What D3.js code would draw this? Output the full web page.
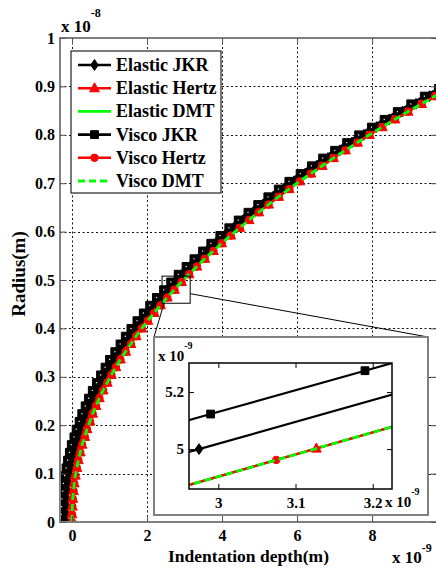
<!DOCTYPE html>
<html><head><meta charset="utf-8">
<script src="https://cdn.jsdelivr.net/npm/d3@7"></script>
<style>
body{margin:0;background:#fff}
svg{display:block}
text{font-family:"Liberation Serif","Times New Roman",serif;font-weight:bold;fill:#000}
</style>
</head><body>
<svg id="c" width="436" height="568"></svg>
<script>
// ---------------- data (main plot, x in 1e-9 m, y in 1e-8 m) ----------------
const radius = [0,0.016,0.032,0.048,0.064,0.080,0.096,0.112,0.128,0.144,0.160,0.176,0.192,0.208,0.224,0.240,0.256,0.272,0.288,0.304,0.320,0.336,0.352,0.368,0.384,0.400,0.416,0.432,0.448,0.464,0.480,0.496,0.512,0.528,0.544,0.560,0.576,0.592,0.608,0.624,0.640,0.656,0.672,0.688,0.704,0.720,0.736,0.752,0.768,0.784,0.800,0.816,0.832,0.848,0.864,0.880,0.896];
const depthElasticJKR = [-0.15,-0.15,-0.14,-0.13,-0.11,-0.09,-0.06,-0.02,0.02,0.07,0.12,0.19,0.25,0.33,0.40,0.49,0.58,0.68,0.79,0.90,1.02,1.14,1.28,1.42,1.56,1.71,1.87,2.04,2.21,2.39,2.58,2.77,2.97,3.18,3.39,3.62,3.84,4.08,4.32,4.57,4.83,5.09,5.36,5.64,5.92,6.22,6.52,6.82,7.14,7.46,7.78,8.12,8.46,8.81,9.17,9.53,9.91];
const depthElasticHertz = [0,0.00,0.01,0.02,0.04,0.06,0.09,0.13,0.17,0.22,0.27,0.34,0.40,0.48,0.55,0.64,0.73,0.83,0.94,1.05,1.17,1.29,1.43,1.57,1.71,1.86,2.02,2.19,2.36,2.54,2.73,2.92,3.12,3.33,3.54,3.77,3.99,4.23,4.47,4.72,4.98,5.24,5.51,5.79,6.07,6.37,6.67,6.97,7.29,7.61,7.93,8.27,8.61,8.96,9.32,9.68,10.06];
const depthElasticDMT = [0,0.00,0.01,0.02,0.04,0.06,0.09,0.13,0.17,0.22,0.27,0.34,0.40,0.48,0.55,0.64,0.73,0.83,0.94,1.05,1.17,1.29,1.43,1.57,1.71,1.86,2.02,2.19,2.36,2.54,2.73,2.92,3.12,3.33,3.54,3.77,3.99,4.23,4.47,4.72,4.98,5.24,5.51,5.79,6.07,6.37,6.67,6.97,7.29,7.61,7.93,8.27,8.61,8.96,9.32,9.68,10.06];
const depthViscoJKR = [-0.29,-0.29,-0.28,-0.27,-0.25,-0.23,-0.20,-0.16,-0.12,-0.07,-0.02,0.05,0.11,0.19,0.26,0.35,0.44,0.54,0.65,0.76,0.88,1.00,1.14,1.28,1.42,1.57,1.73,1.90,2.07,2.25,2.44,2.63,2.83,3.04,3.25,3.48,3.70,3.94,4.18,4.43,4.69,4.95,5.22,5.50,5.78,6.08,6.38,6.68,7.00,7.32,7.64,7.98,8.32,8.67,9.03,9.39,9.77];
const depthViscoHertz = [0,0.00,0.01,0.02,0.04,0.06,0.09,0.13,0.17,0.22,0.27,0.34,0.40,0.48,0.55,0.64,0.73,0.83,0.94,1.05,1.17,1.29,1.43,1.57,1.71,1.86,2.02,2.19,2.36,2.54,2.73,2.92,3.12,3.33,3.54,3.77,3.99,4.23,4.47,4.72,4.98,5.24,5.51,5.79,6.07,6.37,6.67,6.97,7.29,7.61,7.93,8.27,8.61,8.96,9.32,9.68,10.06];
const depthViscoDMT = [0,0.00,0.01,0.02,0.04,0.06,0.09,0.13,0.17,0.22,0.27,0.34,0.40,0.48,0.55,0.64,0.73,0.83,0.94,1.05,1.17,1.29,1.43,1.57,1.71,1.86,2.02,2.19,2.36,2.54,2.73,2.92,3.12,3.33,3.54,3.77,3.99,4.23,4.47,4.72,4.98,5.24,5.51,5.79,6.07,6.37,6.67,6.97,7.29,7.61,7.93,8.27,8.61,8.96,9.32,9.68,10.06];

const seriesNames = ["Elastic JKR","Elastic Hertz","Elastic DMT","Visco JKR","Visco Hertz","Visco DMT"];
const xTicks = [0,2,4,6,8];
const yTicks = [0,0.1,0.2,0.3,0.4,0.5,0.6,0.7,0.8,0.9,1];
const xTickLabels = ["0","2","4","6","8"];
const yTickLabels = ["0","0.1","0.2","0.3","0.4","0.5","0.6","0.7","0.8","0.9","1"];
const xDomain = [-0.32, 9.73];
const yDomain = [0, 1];
const zoomBox = [2.4, 3.15, 0.452, 0.508]; // x0,x1,y0,y1 of the magnified region

// ---------------- data (inset, both axes in 1e-9 m) ----------------
const insetDepthEJ = [2.65, 2.975, 3.30];      const insetRadiusEJ = [4.752, 5.000, 5.248];
const insetDepthEH = [2.90, 3.127, 3.35];      const insetRadiusEH = [4.826, 5.002, 5.175];
const insetDepthED = [2.90, 3.35];             const insetRadiusED = [4.826, 5.175];
const insetDepthVJ = [2.79, 2.99, 3.19, 3.39]; const insetRadiusVJ = [4.970, 5.123, 5.275, 5.427];
const insetDepthVH = [2.85, 3.075, 3.30];      const insetRadiusVH = [4.787, 4.962, 5.136];
const insetDepthVD = [2.90, 3.35];             const insetRadiusVD = [4.826, 5.175];
const insetXDomain = [2.962, 3.225];
const insetYDomain = [4.86, 5.302];
const insetXTicks = [3, 3.1, 3.2];
const insetYTicks = [5, 5.2];
const insetXTickLabels = ["3","3.1","3.2"];
const insetYTickLabels = ["5","5.2"];

// ---------------- styles ----------------
const styles = [
  {color:"#000", marker:"diamond", dash:null},
  {color:"#f00", marker:"triangle", dash:null},
  {color:"#0f0", marker:null, dash:null},
  {color:"#000", marker:"square", dash:null},
  {color:"#f00", marker:"circle", dash:null},
  {color:"#0f0", marker:null, dash:"7,4"}
];

const svg = d3.select("#c");
const M = {l:60, r:437, t:38, b:522};
const x = d3.scaleLinear().domain(xDomain).range([M.l, M.r]);
const y = d3.scaleLinear().domain(yDomain).range([M.b, M.t]);

function markerPath(type){
  if(type==="diamond") return "M0,-5.4L3.8,0L0,5.4L-3.8,0Z";
  if(type==="triangle") return "M0,-5.4L4.9,3.6L-4.9,3.6Z";
  if(type==="square") return "M-3.9,-3.9H3.9V3.9H-3.9Z";
  if(type==="circle") return d3.symbol(d3.symbolCircle, 44)();
  return null;
}

// clip
const defs = svg.append("defs");
defs.append("clipPath").attr("id","clipMain").append("rect")
  .attr("x",M.l).attr("y",M.t).attr("width",M.r-M.l).attr("height",M.b-M.t);

// grid
const grid = svg.append("g").attr("stroke","#111").attr("stroke-width",1).attr("stroke-dasharray","2,2.5");
grid.selectAll(".gx").data(xTicks).enter().append("line")
  .attr("x1",d=>Math.round(x(d))+0.5).attr("x2",d=>Math.round(x(d))+0.5).attr("y1",M.t).attr("y2",M.b);
grid.selectAll(".gy").data(yTicks.slice(1,-1)).enter().append("line")
  .attr("y1",d=>Math.round(y(d))+0.5).attr("y2",d=>Math.round(y(d))+0.5).attr("x1",M.l).attr("x2",M.r);

// series
const mainDepths = [depthElasticJKR, depthElasticHertz, depthElasticDMT, depthViscoJKR, depthViscoHertz, depthViscoDMT];
const plotG = svg.append("g").attr("clip-path","url(#clipMain)");
function drawSeries(g, xs, ys, sx, sy, st, whiteDot){
  const pts = xs.map((d,i)=>[sx(d), sy(ys[i])]);
  g.append("path").attr("d", d3.line()(pts)).attr("fill","none")
    .attr("stroke",st.color).attr("stroke-width", st.dash?2.8:2.2)
    .attr("stroke-dasharray", st.dash).attr("stroke-linejoin","round");
  if(st.marker){
    g.selectAll(null).data(pts).enter().append("path")
      .attr("d", markerPath(st.marker))
      .attr("transform", p=>`translate(${p[0]},${p[1]})`)
      .attr("fill", st.color).attr("stroke", st.color).attr("stroke-width",1);
    if(whiteDot && st.marker==="square"){
      g.selectAll(null).data(pts).enter().append("rect")
        .attr("x",p=>p[0]-0.5).attr("y",p=>p[1]-0.5).attr("width",1.2).attr("height",1.2).attr("fill","#fff");
    }
  }
}
mainDepths.forEach((dep,i)=>drawSeries(plotG, dep, radius, x, y, styles[i], true));

// axes frame + ticks
const axG = svg.append("g");
axG.append("rect").attr("x",M.l).attr("y",M.t).attr("width",M.r-M.l).attr("height",M.b-M.t)
  .attr("fill","none").attr("stroke","#808080").attr("stroke-width",2);
const xa = svg.append("g").attr("transform",`translate(0,${M.b})`)
  .call(d3.axisBottom(x).tickValues(xTicks).tickFormat((d,i)=>xTickLabels[i]).tickSize(-6).tickPadding(8));
const ya = svg.append("g").attr("transform",`translate(${M.l},0)`)
  .call(d3.axisLeft(y).tickValues(yTicks).tickFormat((d,i)=>yTickLabels[i]).tickSize(-6).tickPadding(5));
const xa2 = svg.append("g").attr("transform",`translate(0,${M.t})`)
  .call(d3.axisTop(x).tickValues(xTicks).tickFormat("").tickSize(-6));
const ya2 = svg.append("g").attr("transform",`translate(${M.r},0)`)
  .call(d3.axisRight(y).tickValues(yTicks).tickFormat("").tickSize(-6));
[xa,ya,xa2,ya2].forEach(a=>{
  a.select(".domain").remove();
  a.selectAll(".tick line").attr("stroke","#555").attr("stroke-width",1);
  a.selectAll("text").style("font-size","16px").attr("fill","#000");
});

// exponent labels
const e1 = svg.append("text").attr("x",61).attr("y",32).style("font-size","17px");
e1.append("tspan").text("x 10");
e1.append("tspan").attr("dy",-15).style("font-size","12px").text("-8");
const e2 = svg.append("text").attr("x",392).attr("y",563).style("font-size","17px");
e2.append("tspan").text("x 10");
e2.append("tspan").attr("dy",-11).style("font-size","12px").text("-9");

// axis titles
svg.append("text").attr("x",(M.l+M.r)/2).attr("y",562).attr("text-anchor","middle")
  .style("font-size","17.5px").text("Indentation depth(m)");
svg.append("text").attr("transform",`translate(25,${(M.t+M.b)/2-6}) rotate(-90)`).attr("text-anchor","middle")
  .style("font-size","19px").text("Radius(m)");

// zoom rectangle and connectors
const insetBox = {l:154, t:337, r:428, b:515};
svg.append("rect").attr("x",x(zoomBox[0])).attr("y",y(zoomBox[3]))
  .attr("width",x(zoomBox[1])-x(zoomBox[0])).attr("height",y(zoomBox[2])-y(zoomBox[3]))
  .attr("fill","none").attr("stroke","#000").attr("stroke-width",1);
svg.append("line").attr("x1",x(zoomBox[1])).attr("y1",y((zoomBox[2]+zoomBox[3])/2)+4)
  .attr("x2",insetBox.r).attr("y2",insetBox.t).attr("stroke","#000").attr("stroke-width",1);
svg.append("line").attr("x1",x(zoomBox[0])+2).attr("y1",y(zoomBox[2]))
  .attr("x2",insetBox.l).attr("y2",insetBox.t).attr("stroke","#000").attr("stroke-width",1);

// inset
svg.append("rect").attr("x",insetBox.l).attr("y",insetBox.t).attr("width",insetBox.r-insetBox.l)
  .attr("height",insetBox.b-insetBox.t).attr("fill","#fff").attr("stroke","#808080").attr("stroke-width",2);
const I = {l:189, r:392, t:363, b:489};
const ix = d3.scaleLinear().domain(insetXDomain).range([I.l, I.r]);
const iy = d3.scaleLinear().domain(insetYDomain).range([I.b, I.t]);
defs.append("clipPath").attr("id","clipInset").append("rect")
  .attr("x",I.l).attr("y",I.t).attr("width",I.r-I.l).attr("height",I.b-I.t);
const inG = svg.append("g").attr("clip-path","url(#clipInset)");
const insetSeries = [
  [insetDepthEJ, insetRadiusEJ],[insetDepthEH, insetRadiusEH],[insetDepthED, insetRadiusED],
  [insetDepthVJ, insetRadiusVJ],[insetDepthVH, insetRadiusVH],[insetDepthVD, insetRadiusVD]];
insetSeries.forEach((s,i)=>drawSeries(inG, s[0], s[1], ix, iy, styles[i], false));
svg.append("rect").attr("x",I.l).attr("y",I.t).attr("width",I.r-I.l).attr("height",I.b-I.t)
  .attr("fill","none").attr("stroke","#000").attr("stroke-width",1.5);
const ixa = svg.append("g").attr("transform",`translate(0,${I.b})`)
  .call(d3.axisBottom(ix).tickValues(insetXTicks).tickFormat((d,i)=>insetXTickLabels[i]).tickSize(-5).tickPadding(8));
const iya = svg.append("g").attr("transform",`translate(${I.l},0)`)
  .call(d3.axisLeft(iy).tickValues(insetYTicks).tickFormat((d,i)=>insetYTickLabels[i]).tickSize(-5).tickPadding(5));
const ixa2 = svg.append("g").attr("transform",`translate(0,${I.t})`)
  .call(d3.axisTop(ix).tickValues(insetXTicks).tickFormat("").tickSize(-5));
const iya2 = svg.append("g").attr("transform",`translate(${I.r},0)`)
  .call(d3.axisRight(iy).tickValues(insetYTicks).tickFormat("").tickSize(-5));
[ixa,iya,ixa2,iya2].forEach(a=>{
  a.select(".domain").remove();
  a.selectAll(".tick line").attr("stroke","#000").attr("stroke-width",1);
  a.selectAll("text").style("font-size","15px").attr("fill","#000");
});
const e3 = svg.append("text").attr("x",158).attr("y",361).style("font-size","15px");
e3.append("tspan").text("x 10");
e3.append("tspan").attr("dy",-12).style("font-size","10px").text("-9");
const e4 = svg.append("text").attr("x",385).attr("y",507).style("font-size","15px");
e4.append("tspan").text("x 10");
e4.append("tspan").attr("dy",-12).style("font-size","10px").text("-9");

// legend
const L = {x:71, y:51, w:150, h:142};
const lg = svg.append("g");
lg.append("rect").attr("x",L.x).attr("y",L.y).attr("width",L.w).attr("height",L.h)
  .attr("fill","#fff").attr("stroke","#222").attr("stroke-width",1.2);
seriesNames.forEach((name,i)=>{
  const yy = 65 + i*23.2;
  const st = styles[i];
  lg.append("line").attr("x1",78).attr("x2",111).attr("y1",yy).attr("y2",yy)
    .attr("stroke",st.color).attr("stroke-width",st.dash?2.8:2.6).attr("stroke-dasharray",st.dash);
  if(st.marker){
    lg.append("path").attr("d",markerPath(st.marker)).attr("transform",`translate(94.5,${yy})`)
      .attr("fill",st.color).attr("stroke",st.color).attr("stroke-width",1);
  }
  lg.append("text").attr("x",116).attr("y",yy+6).style("font-size","18px").text(name);
});
</script>
</body></html>
